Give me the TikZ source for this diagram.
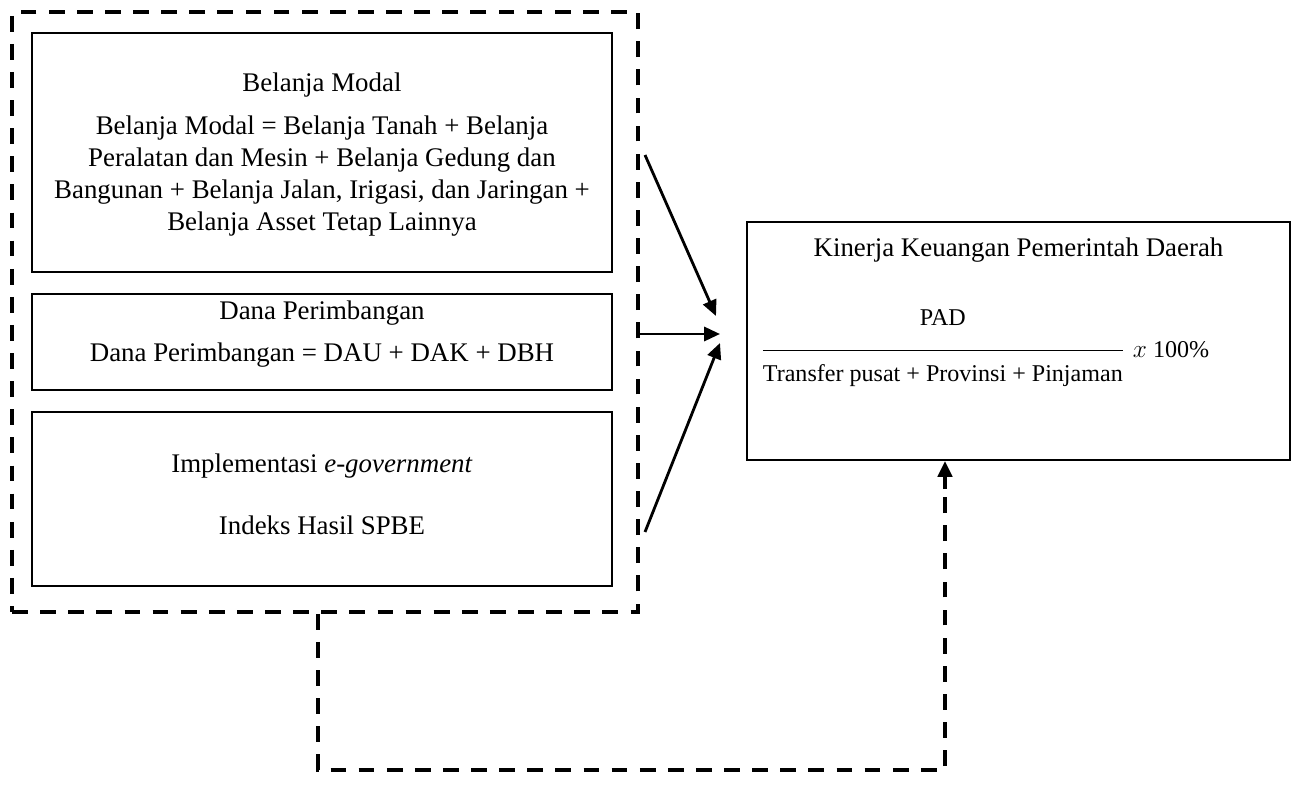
\documentclass[tikz,border=0pt]{standalone}
\usepackage{amsmath}
\usepackage{fontspec}
\setmainfont{Liberation Serif}
\usetikzlibrary{arrows.meta,positioning}
\tikzset{
  varbox/.style={draw=black, line width=1.1pt, minimum width=11.6cm, align=center, inner sep=0pt},
  grpline/.style={draw=black, line width=2.2pt, dash pattern=on 9pt off 7pt},
  effect/.style={-{Triangle[length=9pt,width=8pt]}, line width=1.6pt},
}

\begin{document}
\begin{tikzpicture}[x=0.02cm, y=-0.02cm, font=\fontsize{15.3}{18.2}\selectfont]
  \useasboundingbox (0,0) rectangle (1305,787);

  % independent variables
  \node[varbox, minimum height=4.78cm] (modal) at (322,152.5) {};
  \node[align=center] (modaltxt) at (322,154.5) {Belanja Modal\\[6.2pt]
    Belanja Modal = Belanja Tanah + Belanja\\
    Peralatan dan Mesin + Belanja Gedung dan\\
    Bangunan + Belanja Jalan, Irigasi, dan Jaringan +\\
    Belanja Asset Tetap Lainnya};

  \node[varbox, minimum height=1.92cm] (dana) at (322,342) {};
  \node[align=center] (danatxt) at (322,334) {Dana Perimbangan\\[5.7pt]
    Dana Perimbangan = DAU + DAK + DBH};

  \node[varbox, minimum height=3.48cm] (egov) at (322,499) {};
  \node[align=center] (egovtxt) at (322,494) {Implementasi \textit{e-government}\\[17pt]
    Indeks Hasil SPBE};

  % group of the three
  \node[grpline, minimum width=12.52cm, minimum height=12cm] (grp) at (325,312) {};

  % dependent variable
  \node[draw=black, line width=1.1pt, minimum width=10.86cm, minimum height=4.76cm] (kinerja) at (1018.5,341) {};
  \node (kintitle) at (1018.5,250) {Kinerja Keuangan Pemerintah Daerah};
  \node[font=\fontsize{13.7}{16}\selectfont] (kinfrac) at (985,348)
    {$\dfrac{\text{PAD}\rule[-12.5pt]{0pt}{0pt}}{\rule{0pt}{15.5pt}\text{Transfer pusat + Provinsi + Pinjaman}}$\,\,$x$ 100\%};

  % arrows
  \coordinate (s1) at (645,155);
  \coordinate (s2) at (638,334);
  \coordinate (s3) at (645,532);
  \coordinate (t1) at (716,316);
  \coordinate (t2) at (720,334);
  \coordinate (t3) at (720,343);
  \draw[effect] (s1) -- (t1);
  \draw[effect] (s2) -- (t2);
  \draw[effect] (s3) -- (t3);

  % feedback path
  \coordinate (fbdown) at (318,770);
  \coordinate (fbup) at (945,770);
  \draw[grpline] (grp.south -| fbdown) -- (fbdown) -- (fbup) -- ([yshift=-14pt]fbup |- kinerja.south);
  \draw[-{Triangle[length=9pt,width=8pt]}, line width=2.2pt] ([yshift=-16pt]fbup |- kinerja.south) -- (fbup |- kinerja.south);
\end{tikzpicture}
\end{document}
